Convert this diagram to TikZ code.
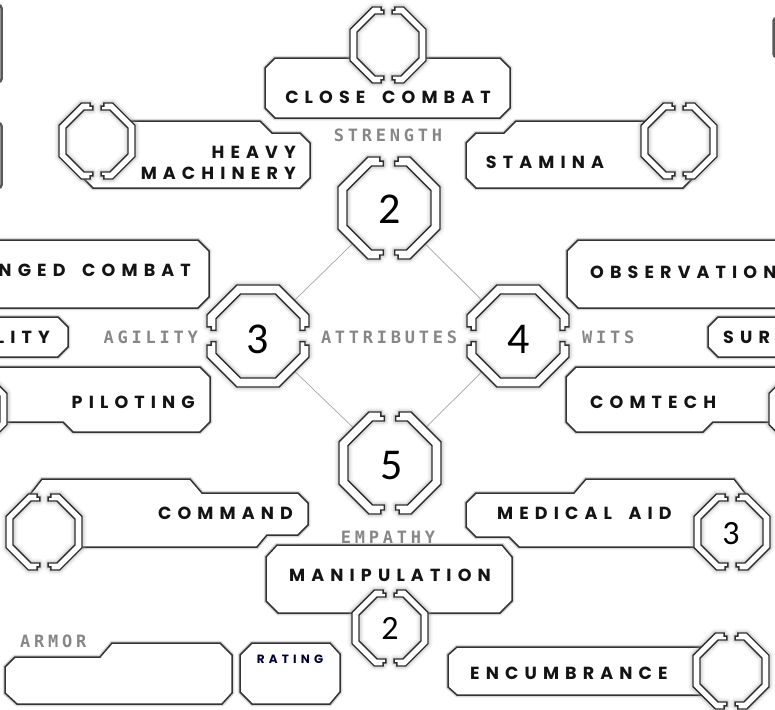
\documentclass[tikz,border=0pt]{standalone}
\usepackage{fontspec}
\newfontfamily\lblfont{Poppins}[LetterSpace=35, WordSpace=1.7]
\newfontfamily\gryfont{DejaVu Sans Mono}[LetterSpace=22]
\newfontfamily\numfont{Carlito}

% octagonal double ring split into two halves
% #1 position, #2 outer half-width, #3 band width, #4 rotation
\newcommand\octring[4]{%
  \begin{scope}[shift={#1}, rotate=#4]
    \pgfmathsetmacro\oR{#2}
    \pgfmathsetmacro\oA{#2*0.4142}
    \pgfmathsetmacro\iR{#2-#3}
    \pgfmathsetmacro\iA{(#2-#3)*0.4142}
    \pgfmathsetmacro\gA{#2*0.11}
    \pgfmathsetmacro\gB{\gA+#2*0.07}
    \pgfmathsetmacro\nD{#2-#3*0.45}
    \fill[white] (\oA,\oR) -- (\oR,\oA) -- (\oR,-\oA) -- (\oA,-\oR) -- (-\oA,-\oR)
      -- (-\oR,-\oA) -- (-\oR,\oA) -- (-\oA,\oR) -- cycle;
    \foreach \gw/\gop in {9/0.10, 5/0.25} {
      \foreach \sx in {1,-1} {
        \path[xscale=\sx, draw=black!40, line width=\gw, opacity=\gop, line join=round]
          (\gB,\oR) -- (\oA,\oR) -- (\oR,\oA) -- (\oR,-\oA) -- (\oA,-\oR) -- (\gB,-\oR)
          -- (\gB,-\nD) -- (\gA,-\nD) -- (\gA,-\iR) -- (\iA,-\iR) -- (\iR,-\iA) -- (\iR,\iA)
          -- (\iA,\iR) -- (\gA,\iR) -- (\gA,\nD) -- (\gB,\nD) -- cycle;
      }
    }
    \foreach \sx in {1,-1} {
      \path[xscale=\sx, ringpiece]
        (\gB,\oR) -- (\oA,\oR) -- (\oR,\oA) -- (\oR,-\oA) -- (\oA,-\oR) -- (\gB,-\oR)
        -- (\gB,-\nD) -- (\gA,-\nD) -- (\gA,-\iR) -- (\iA,-\iR) -- (\iR,-\iA) -- (\iR,\iA)
        -- (\iA,\iR) -- (\gA,\iR) -- (\gA,\nD) -- (\gB,\nD) -- cycle;
    }
  \end{scope}}

\begin{document}
\begin{tikzpicture}[x=1pt, y=-1pt,
  panel/.style={fill=white, draw=black!80, line width=1.5,
    preaction={draw=black!15, line width=4.5}},
  ringpiece/.style={fill=white, draw=black!82, line width=1.4},
  lbl/.style={font=\lblfont\bfseries\fontsize{17.5}{17.5}\selectfont, text=black!92, inner sep=0},
  gry/.style={font=\gryfont\bfseries\fontsize{17}{17}\selectfont, text=black!47, inner sep=0},
  num/.style={font=\numfont\fontsize{44}{44}\selectfont, inner sep=0},
  snum/.style={font=\numfont\fontsize{34}{34}\selectfont, inner sep=0},
  diag/.style={draw=black!35, line width=0.7},
  edgebox/.style={draw=black!65, line width=2.5, rounded corners=3}]

\useasboundingbox (0,0) rectangle (775,709);
\clip (0,0) rectangle (775,709);

% attribute centres
\coordinate (str) at (389,208);
\coordinate (agi) at (258,336);
\coordinate (wit) at (518,336);
\coordinate (emp) at (390,463);

% skill ring centres
\coordinate (ccR) at (388,45);
\coordinate (hmR) at (97,141);
\coordinate (stR) at (679,141);
\coordinate (piR) at (-31,409);
\coordinate (ctR) at (807,409);
\coordinate (cmR) at (44,532);
\coordinate (maR) at (732,532);
\coordinate (mpR) at (390,628);
\coordinate (enR) at (731,671);

% boxes cut by the left and right edges
\draw[edgebox] (-20,5) -- (1.5,5) -- (1.5,82) -- (-20,82);
\draw[edgebox] (-20,123) -- (1.5,123) -- (1.5,188) -- (-20,188);
\draw[edgebox] (795,18) -- (773.5,18) -- (773.5,57) -- (795,57);

% diamond joining the attributes
\draw[diag] (str) -- (agi) -- (emp) -- (wit) -- cycle;

% skill panels
\draw[panel] (275,58) -- (500,58) -- (510,68) -- (510,108) -- (500,118) -- (275,118) -- (265,108) -- (265,68) -- cycle;
\draw[panel] (97,121) -- (260,121) -- (272,133) -- (300,133) -- (310,143) -- (310,178) -- (300,188) -- (93,188) -- (75,170) -- cycle;
\draw[panel] (679,121) -- (516,121) -- (504,133) -- (476,133) -- (466,143) -- (466,178) -- (476,188) -- (683,188) -- (701,170) -- cycle;
\draw[panel] (-10,240) -- (198,240) -- (209,251) -- (209,297) -- (198,308) -- (-10,308) -- cycle;
\draw[panel] (786,240) -- (578,240) -- (567,251) -- (567,297) -- (578,308) -- (786,308) -- cycle;
\draw[panel] (-10,317) -- (58,317) -- (68,327) -- (68,347) -- (58,357) -- (-10,357) -- cycle;
\draw[panel] (786,317) -- (718,317) -- (708,327) -- (708,347) -- (718,357) -- (786,357) -- cycle;
\draw[panel] (-40,367) -- (200,367) -- (210,377) -- (210,422) -- (200,432) -- (73,432) -- (63,422) -- (-40,422) -- cycle;
\draw[panel] (816,367) -- (576,367) -- (566,377) -- (566,422) -- (576,432) -- (703,432) -- (713,422) -- (816,422) -- cycle;
\draw[panel] (42,479) -- (190,479) -- (202,493) -- (298,493) -- (308,503) -- (308,525) -- (298,535) -- (267,535) -- (257,547) -- (44,547) -- (44,520) -- (28,497) -- cycle;
\draw[panel] (734,479) -- (586,479) -- (574,493) -- (476,493) -- (466,503) -- (466,527) -- (476,537) -- (509,537) -- (519,547) -- (732,547) -- (732,520) -- (748,497) -- cycle;
\draw[panel] (277,545) -- (502,545) -- (512,557) -- (512,601) -- (500,613) -- (278,613) -- (266,601) -- (266,557) -- cycle;
\draw[panel] (15,657) -- (100,657) -- (112,643) -- (220,643) -- (232,655) -- (232,693) -- (222,704) -- (17,704) -- (5,693) -- (5,667) -- cycle;
\draw[panel] (252,643) -- (330,643) -- (340,654) -- (340,692) -- (330,704) -- (252,704) -- (240,692) -- (240,655) -- cycle;
\draw[panel] (457,647) -- (720,647) -- (720,695) -- (457,695) -- (448,687) -- (448,655) -- cycle;

% rings
\octring{(str)}{51}{9}{0}
\octring{(agi)}{51}{9}{90}
\octring{(wit)}{51}{9}{90}
\octring{(emp)}{51}{9}{0}
\octring{(ccR)}{38}{7}{0}
\octring{(hmR)}{38}{7}{0}
\octring{(stR)}{38}{7}{0}
\octring{(piR)}{38}{7}{0}
\octring{(ctR)}{38}{7}{0}
\octring{(cmR)}{38}{7}{0}
\octring{(maR)}{38}{7}{0}
\octring{(mpR)}{38}{7}{0}
\octring{(enR)}{38}{7}{0}

% values
\node[num] (strV) at (390,209) {2};
\node[num] (agiV) at (258,339) {3};
\node[num] (witV) at (519,339) {4};
\node[num] (empV) at (392,466) {5};
\node[snum] (maV) at (731,534) {3};
\node[snum] (mpV) at (390,628) {2};

% attribute captions
\node[gry] (strT) at (388,135) {STRENGTH};
\node[gry, anchor=east] (agiT) at (198,337) {AGILITY};
\node[gry] (attT) at (389,337) {ATTRIBUTES};
\node[gry, anchor=west] (witT) at (582,337) {WITS};
\node[gry] (empT) at (388,537) {EMPATHY};
\node[gry, anchor=west] (armT) at (20,641) {ARMOR};

% skill captions
\node[lbl] (ccT) at (388,97) {CLOSE COMBAT};
\node[lbl, anchor=east] (hmT1) at (296,152) {HEAVY};
\node[lbl, anchor=east] (hmT2) at (296,173) {MACHINERY};
\node[lbl] (stT) at (545,162) {STAMINA};
\node[lbl, anchor=east] (rcT) at (191,270) {RANGED COMBAT};
\node[lbl, anchor=west] (obT) at (590,272) {OBSERVATION};
\node[lbl, anchor=east] (moT) at (50,337) {MOBILITY};
\node[lbl, anchor=west] (suT) at (723,337) {SURVIVAL};
\node[lbl, anchor=east] (piT) at (195,402) {PILOTING};
\node[lbl, anchor=west] (ctT) at (590,402) {COMTECH};
\node[lbl, anchor=east] (cmT) at (293,513) {COMMAND};
\node[lbl, anchor=west] (maT) at (497,513) {MEDICAL AID};
\node[lbl] (mpT) at (390,575) {MANIPULATION};
\node[lbl, anchor=west] (enT) at (470,673) {ENCUMBRANCE};
\node[lbl, font=\lblfont\bfseries\fontsize{12}{12}\selectfont, text=black!80!blue] (raT) at (290,659) {RATING};

\end{tikzpicture}
\end{document}
